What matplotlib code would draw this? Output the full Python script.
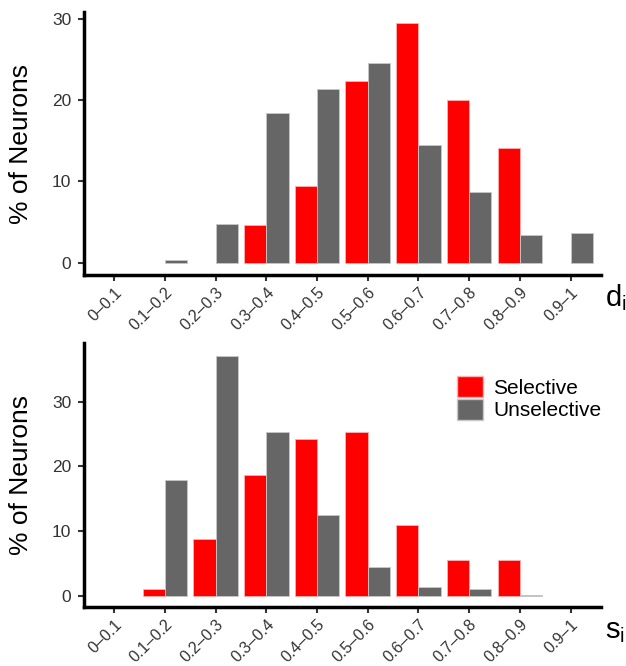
import numpy as np
import matplotlib.pyplot as plt
from matplotlib.patches import Patch

plt.rcParams['font.family'] = ['Liberation Sans', 'DejaVu Sans']
plt.rcParams['mathtext.fontset'] = 'custom'
plt.rcParams['mathtext.rm'] = 'Liberation Sans'
plt.rcParams['mathtext.it'] = 'Liberation Sans'

bins = ['0–0.1', '0.1–0.2', '0.2–0.3', '0.3–0.4', '0.4–0.5',
        '0.5–0.6', '0.6–0.7', '0.7–0.8', '0.8–0.9', '0.9–1']

# % of neurons per bin, d_i index
d_selective = [0, 0, 0, 4.7, 9.4, 22.3, 29.4, 20.0, 14.1, 0]
d_unselective = [0, 0.4, 4.8, 18.4, 21.4, 24.5, 14.5, 8.7, 3.4, 3.7]

# % of neurons per bin, s_i index
s_selective = [0, 1.1, 8.8, 18.7, 24.2, 25.3, 11.0, 5.5, 5.5, 0]
s_unselective = [0, 17.9, 37.0, 25.3, 12.5, 4.4, 1.4, 1.1, 0.2, 0]

RED = '#ff0000'
GREY = '#666666'
W = 0.44

fig = plt.figure(figsize=(6.26, 6.66), dpi=100)
ax1 = fig.add_axes([0.134, 0.587, 0.826, 0.395])
ax2 = fig.add_axes([0.134, 0.0886, 0.826, 0.396])


def draw(ax, sel, unsel, ylim, label):
    x = np.arange(len(bins))
    # empty bins get no outline
    lw_sel = [0.6 if v > 0 else 0 for v in sel]
    lw_unsel = [0.6 if v > 0 else 0 for v in unsel]
    ax.bar(x, sel, width=-W, align='edge', color=RED,
           edgecolor='#ffb0b0', linewidth=lw_sel)
    ax.bar(x, unsel, width=W, align='edge', color=GREY,
           edgecolor='#c8c8c8', linewidth=lw_unsel)
    ax.set_xlim(-0.6, 9.6)
    ax.set_ylim(*ylim)
    ax.set_yticks([0, 10, 20, 30])
    ax.set_xticks(x)
    ax.set_xticklabels(bins, rotation=45, ha='right', va='top',
                       rotation_mode='anchor', fontsize=11.5, color='#333333')
    for s in ['top', 'right']:
        ax.spines[s].set_visible(False)
    for s in ['left', 'bottom']:
        ax.spines[s].set_linewidth(2.5)
        ax.spines[s].set_color('black')
    ax.tick_params(axis='both', direction='out', length=4, width=1.5,
                   color='#333333')
    ax.tick_params(axis='y', labelsize=12.5, labelcolor='#333333', pad=5)
    ax.tick_params(axis='x', pad=3)
    ax.set_ylabel('% of Neurons', fontsize=19, labelpad=14)
    ax.annotate(label, xy=(1, 0), xycoords='axes fraction',
                xytext=(4, -31), textcoords='offset pixels',
                ha='left', va='baseline', fontsize=21)


draw(ax1, d_selective, d_unselective, (-1.5, 30.8), r'd$_\mathrm{i}$')
draw(ax2, s_selective, s_unselective, (-1.7, 39.0), r's$_\mathrm{i}$')

handles = [Patch(facecolor=RED, edgecolor='#ffb0b0', label='Selective'),
           Patch(facecolor=GREY, edgecolor='#c8c8c8', label='Unselective')]
ax2.legend(handles=handles, loc='upper left', bbox_to_anchor=(457 / 626, 1 - 376 / 666),
           bbox_transform=fig.transFigure, frameon=False, fontsize=15,
           handlelength=1.25, handleheight=1.2, labelspacing=0.05,
           handletextpad=0.5, borderpad=0, borderaxespad=0)

fig.savefig('out.png', dpi=100)
